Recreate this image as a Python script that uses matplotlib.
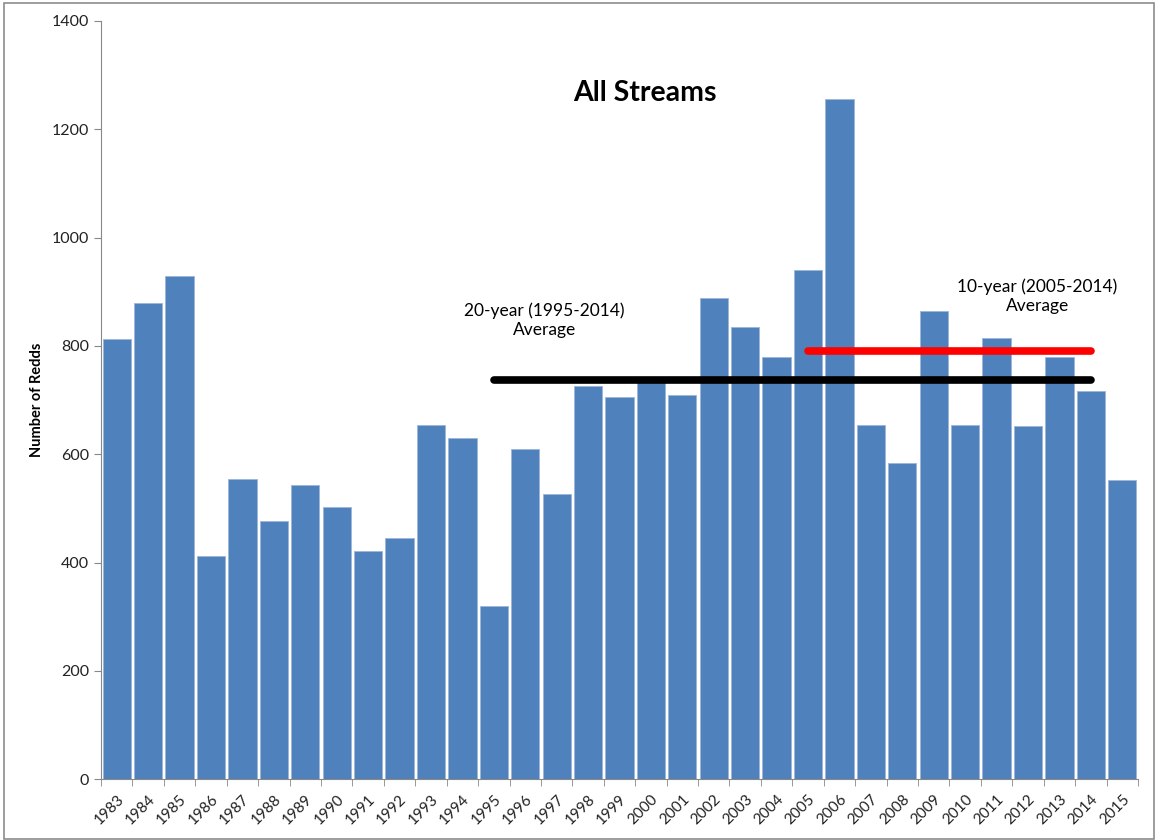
import numpy as np
import matplotlib
matplotlib.use('Agg')
import matplotlib.pyplot as plt
from matplotlib.patches import Rectangle

plt.rcParams['font.family'] = ['Lato', 'DejaVu Sans']

# data
years = [str(y) for y in range(1983, 2016)]
redds = [813, 880, 930, 412, 555, 477, 543, 503, 422, 446, 655, 630, 320, 609, 527,
         726, 705, 740, 709, 889, 835, 780, 940, 1256, 654, 584, 865, 654, 814, 652,
         780, 717, 553]
avg20_years = ('1995', '2014')
avg10_years = ('2005', '2014')

bar_color = '#4F81BD'

fig = plt.figure(figsize=(11.56, 8.4), dpi=100)
ax = fig.add_axes([101 / 1156, 1 - 779.3 / 840, (1138 - 101) / 1156, (779.3 - 21) / 840])

x = np.arange(len(years))
ax.bar(x, redds, width=0.9, color=bar_color, edgecolor='#9DB5D6', linewidth=0.6, zorder=2)

# averages drawn across their spans
i0, i1 = years.index(avg20_years[0]), years.index(avg20_years[1])
avg20 = np.mean(redds[i0:i1 + 1])
ax.plot([i0, i1], [avg20, avg20], color='black', lw=5.5, solid_capstyle='round', zorder=3)
j0, j1 = years.index(avg10_years[0]), years.index(avg10_years[1])
avg10 = np.mean(redds[j0:j1 + 1])
ax.plot([j0, j1], [avg10, avg10], color='#FF0000', lw=5.5, solid_capstyle='round', zorder=3)

ax.text(13.6, 848, '20-year (1995-2014)\nAverage', ha='center', va='center',
        multialignment='center', fontsize=12.5, linespacing=1.2)
ax.text(29.3, 892, '10-year (2005-2014)\nAverage', ha='center', va='center',
        multialignment='center', fontsize=12.5, linespacing=1.2)
ax.text(0.5246, 0.905, 'All Streams', transform=ax.transAxes, ha='center', va='center',
        fontsize=20.5, fontweight='bold')

ax.set_xlim(-0.5, len(years) - 0.5)
ax.set_ylim(0, 1400)
ax.set_yticks(range(0, 1401, 200))
ax.set_xticks(x)
ax.set_xticklabels(years, rotation=45, ha='right', rotation_mode='anchor', fontsize=11, color='#222222')
ax.set_xticks(np.arange(-0.5, len(years), 1), minor=True)
ax.tick_params(axis='x', which='major', length=0, pad=9)
ax.tick_params(axis='x', which='minor', length=5, color='#888888')
ax.tick_params(axis='y', length=5, color='#888888', labelsize=11.5, labelcolor='#222222')
ax.set_ylabel('Number of Redds', fontsize=10.5, fontweight='bold', labelpad=5.5)

for s in ['top', 'right']:
    ax.spines[s].set_visible(False)
for s in ['left', 'bottom']:
    ax.spines[s].set_color('#888888')

# chart area border
fig.patches.append(Rectangle((4 / 1156, 1 / 840), 1150 / 1156, 836 / 840, transform=fig.transFigure,
                             fill=False, edgecolor='#8C8C8C', linewidth=1.2))

fig.savefig('out.png', dpi=100)
